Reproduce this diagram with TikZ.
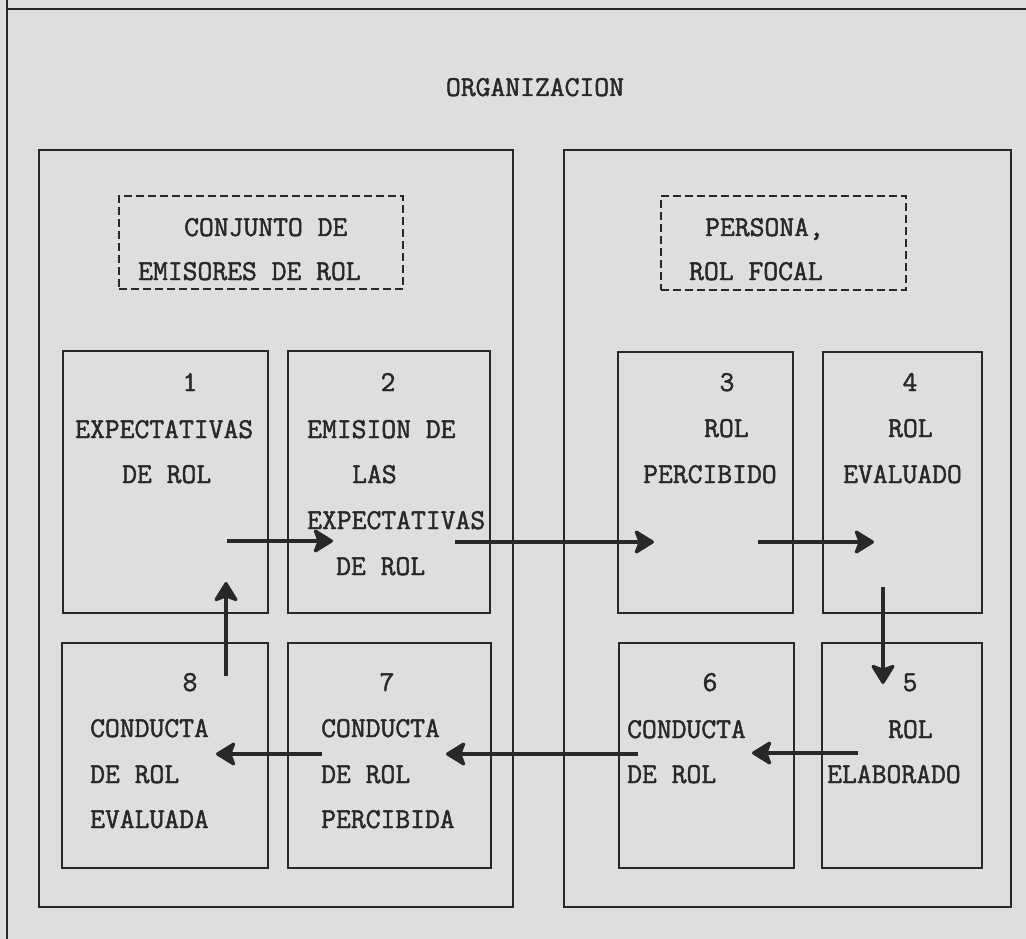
\documentclass[tikz,border=0pt]{standalone}
\usepackage{fontspec}
\newfontfamily\tw{Latin Modern Mono}[FakeBold=1.6]
\usetikzlibrary{arrows.meta}
\definecolor{ink}{RGB}{40,40,40}
\definecolor{paper}{RGB}{222,222,222}
\tikzset{
  frame/.style={draw=ink, line width=1.8pt},
  bigbox/.style={draw=ink, line width=1.8pt, inner sep=0, anchor=north west},
  cell/.style={draw=ink, line width=1.9pt, inner sep=0, anchor=north west},
  dbox/.style={draw=ink, line width=2pt, dash pattern=on 8pt off 4pt, inner sep=0, anchor=north west},
  txt/.style={font=\tw\fontsize{28.8}{30}\selectfont, text=ink, inner sep=0, anchor=base west},
  num/.style={font=\tw\fontsize{28.8}{30}\selectfont, text=ink, inner sep=0, anchor=base},
  arr/.style={draw=ink, line width=3.2pt, -{Stealth[length=22pt, width=27pt, inset=5pt, round]}}
}
\newcommand{\rbox}[6]{\node[#1, minimum width=#5-#3, minimum height=#6-#4] (#2) at (#3,#4) {};}
\begin{document}
\begin{tikzpicture}[x=1pt, y=-1pt]
\fill[paper] (0,0) rectangle (1026,939);
\useasboundingbox (0,0) rectangle (1026,939);
% outer frame
\coordinate (ftl) at (7,9);
\coordinate (ftop) at (7,0);
\coordinate (fbot) at (7,939);
\coordinate (ftr) at (1026,9);
\draw[frame] (ftop) -- (fbot);
\draw[frame] (ftl) -- (ftr);
\node[num] (org) at (535,96) {ORGANIZACION};
% big boxes
\rbox{bigbox}{L}{38}{149}{512}{906}
\rbox{bigbox}{R}{563}{149}{1010}{906}
% dashed boxes
\rbox{dbox}{dL}{118}{195}{402}{288}
\rbox{dbox}{dR}{660}{195}{905}{289}
\node[txt] (dL1) at (184,236) {CONJUNTO DE};
\node[txt] (dL2) at (138,280) {EMISORES DE ROL};
\node[txt] (dR1) at (705,236) {PERSONA,};
\node[txt] (dR2) at (689,280) {ROL FOCAL};
% cells
\rbox{cell}{b1}{62}{350}{267}{612}
\rbox{cell}{b2}{287}{350}{489}{612}
\rbox{cell}{b3}{617}{351}{792}{612}
\rbox{cell}{b4}{822}{351}{981}{612}
\rbox{cell}{b8}{61}{642}{267}{867}
\rbox{cell}{b7}{287}{642}{490}{867}
\rbox{cell}{b6}{618}{642}{793}{867}
\rbox{cell}{b5}{821}{642}{981}{867}
% texts box 1
\node[num] (n1) at (190,391) {1};
\node[txt] (t1a) at (75,438) {EXPECTATIVAS};
\node[txt] (t1b) at (122,483) {DE ROL};
% box 2
\node[num] (n2) at (388,391) {2};
\node[txt] (t2a) at (307,438) {EMISION DE};
\node[txt] (t2b) at (352,483) {LAS};
\node[txt] (t2c) at (307,529) {EXPECTATIVAS};
\node[txt] (t2d) at (336,575) {DE ROL};
% box 3
\node[num] (n3) at (727,391) {3};
\node[txt] (t3a) at (704,437) {ROL};
\node[txt] (t3b) at (643,483) {PERCIBIDO};
% box 4
\node[num] (n4) at (910,391) {4};
\node[txt] (t4a) at (888,437) {ROL};
\node[txt] (t4b) at (843,483) {EVALUADO};
% box 5
\node[num] (n5) at (910,691) {5};
\node[txt] (t5a) at (888,738) {ROL};
\node[txt] (t5b) at (827,783) {ELABORADO};
% box 6
\node[num] (n6) at (710,691) {6};
\node[txt] (t6a) at (627,738) {CONDUCTA};
\node[txt] (t6b) at (627,783) {DE ROL};
% box 7
\node[num] (n7) at (387,691) {7};
\node[txt] (t7a) at (321,737) {CONDUCTA};
\node[txt] (t7b) at (321,783) {DE ROL};
\node[txt] (t7c) at (321,828) {PERCIBIDA};
% box 8
\node[num] (n8) at (190,691) {8};
\node[txt] (t8a) at (90,737) {CONDUCTA};
\node[txt] (t8b) at (90,783) {DE ROL};
\node[txt] (t8c) at (90,828) {EVALUADA};
% arrow end points
\coordinate (a12s) at (227,541);
\coordinate (a12e) at (333,541);
\coordinate (a23s) at (455,542);
\coordinate (a23e) at (654,542);
\coordinate (a34s) at (758,542);
\coordinate (a34e) at (874,542);
\coordinate (a45s) at (883,587);
\coordinate (a45e) at (883,684);
\coordinate (a56s) at (858,753);
\coordinate (a56e) at (752,753);
\coordinate (a67s) at (638,754);
\coordinate (a67e) at (446,754);
\coordinate (a78s) at (322,754);
\coordinate (a78e) at (216,754);
\coordinate (a81s) at (226,676);
\coordinate (a81e) at (226,582);
\draw[arr] (a12s) -- (a12e);
\draw[arr] (a23s) -- (a23e);
\draw[arr] (a34s) -- (a34e);
\draw[arr] (a45s) -- (a45e);
\draw[arr] (a56s) -- (a56e);
\draw[arr] (a67s) -- (a67e);
\draw[arr] (a78s) -- (a78e);
\draw[arr] (a81s) -- (a81e);
\end{tikzpicture}
\end{document}
